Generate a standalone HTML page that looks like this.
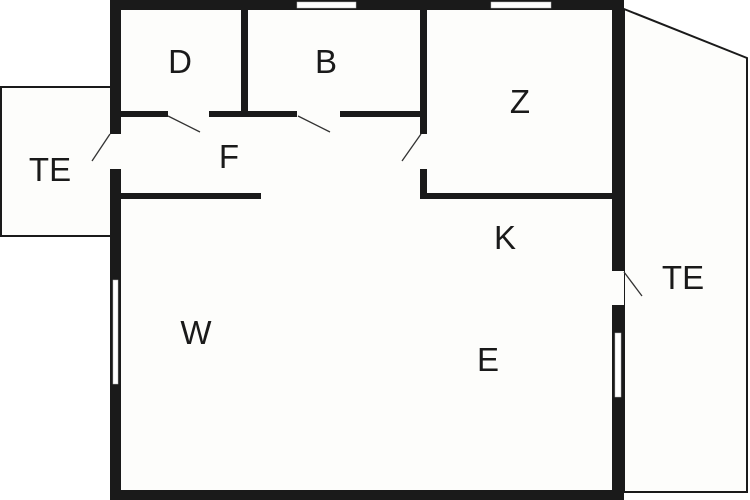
<!DOCTYPE html>
<html><head><meta charset="utf-8"><style>
html,body{margin:0;padding:0;background:#fff;}
svg{display:block;}
text{font-family:"Liberation Sans",sans-serif;font-size:33px;fill:#1a1a1a;text-anchor:middle;}
</style></head><body>
<svg width="750" height="500" viewBox="0 0 750 500">
<rect width="750" height="500" fill="#fff"/>
<rect x="1" y="87" width="110" height="149" fill="#fdfdfb" stroke="#1a1a1a" stroke-width="2"/>
<polygon points="624,9 747,58 747,492 624,492" fill="#fdfdfb" stroke="#1a1a1a" stroke-width="2"/>
<rect x="120" y="10" width="493" height="481" fill="#fdfdfb"/>
<g fill="#1a1a1a">
<rect x="110" y="0" width="514" height="10"/>
<rect x="110" y="0" width="11" height="500"/>
<rect x="110" y="490" width="514" height="10"/>
<rect x="612" y="0" width="12" height="500"/>
<rect x="241" y="10" width="7" height="107"/>
<rect x="120" y="111" width="48" height="6"/>
<rect x="209" y="111" width="88" height="6"/>
<rect x="340" y="111" width="86" height="6"/>
<rect x="420" y="10" width="7" height="124"/>
<rect x="420" y="169" width="7" height="30"/>
<rect x="420" y="193" width="193" height="6"/>
<rect x="120" y="193" width="141" height="6"/>
</g>
<g fill="#fdfdfb">
<rect x="110" y="134" width="11" height="35"/>
<rect x="420" y="134" width="7" height="35"/>
<rect x="612" y="271" width="12" height="34"/>
</g>
<g fill="#fff" stroke="#bbb" stroke-width="0.5">
<rect x="297" y="2" width="59" height="6"/>
<rect x="491" y="2" width="60" height="6"/>
<rect x="113" y="280" width="5" height="104"/>
<rect x="615" y="333" width="6" height="64"/>
</g>
<g stroke="#333" stroke-width="1.3">
<line x1="168" y1="116" x2="200" y2="132"/>
<line x1="298" y1="116" x2="330" y2="132"/>
<line x1="110" y1="134" x2="92" y2="161"/>
<line x1="421" y1="134" x2="402" y2="161"/>
<line x1="624" y1="272" x2="642" y2="296"/>
</g>
<text x="180" y="73">D</text>
<text x="326" y="73">B</text>
<text x="520" y="113">Z</text>
<text x="229" y="168">F</text>
<text x="50" y="181">TE</text>
<text x="505" y="249">K</text>
<text x="683" y="289">TE</text>
<text x="196" y="344">W</text>
<text x="488" y="371">E</text>
</svg>
</body></html>
